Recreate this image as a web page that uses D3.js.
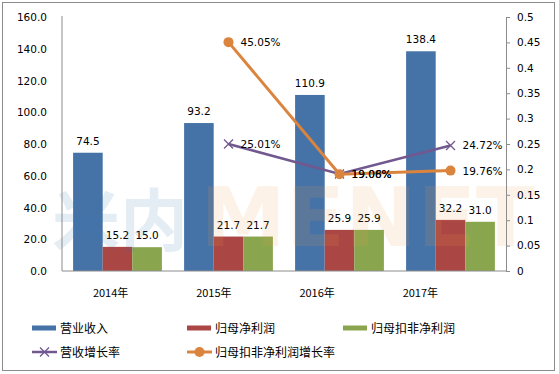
<!DOCTYPE html>
<html>
<head>
<meta charset="utf-8" />
<script src="https://d3js.org/d3.v7.min.js"></script>
<style>
  body { margin: 0; background: #fff; }
  text { font-family: "DejaVu Sans", "Noto Sans CJK SC", sans-serif; fill: #000; }
  .cjk { font-family: "Noto Sans CJK SC", sans-serif; }
</style>
</head>
<body>
<svg id="chart" width="559" height="374"></svg>
<script>
  // data
  var years = ["2014年", "2015年", "2016年", "2017年"];
  var revenue = [74.5, 93.2, 110.9, 138.4];        // 营业收入
  var netProfit = [15.2, 21.7, 25.9, 32.2];        // 归母净利润
  var deductedProfit = [15.0, 21.7, 25.9, 31.0];   // 归母扣非净利润
  var revenueGrowth = [null, 0.2501, 0.1908, 0.2472];     // 营收增长率
  var deductedGrowth = [null, 0.4505, 0.1906, 0.1976];    // 归母扣非净利润增长率
  var leftTicks = [0, 20, 40, 60, 80, 100, 120, 140, 160];
  var rightTicks = [0, 0.05, 0.1, 0.15, 0.2, 0.25, 0.3, 0.35, 0.4, 0.45, 0.5];

  var barSeries = [
    { name: "营业收入", values: revenue, color: "#4572A7" },
    { name: "归母净利润", values: netProfit, color: "#AA4643" },
    { name: "归母扣非净利润", values: deductedProfit, color: "#89A54E" }
  ];
  var lineSeries = [
    { name: "营收增长率", values: revenueGrowth, color: "#71588F", marker: "x", width: 2.5 },
    { name: "归母扣非净利润增长率", values: deductedGrowth, color: "#DB843D", marker: "circle", width: 3 }
  ];

  var svg = d3.select("#chart");
  var plotL = 62, plotR = 506, plotT = 17, plotB = 271;

  // outer frame
  svg.append("rect")
    .attr("x", 2.5).attr("y", 2.5)
    .attr("width", 552).attr("height", 368)
    .attr("fill", "#fff").attr("stroke", "#8c8c8c");

  var x0 = d3.scaleBand().domain(years).range([plotL, plotR])
    .paddingInner(0.2).paddingOuter(0.1);
  var x1 = d3.scaleBand().domain(d3.range(barSeries.length))
    .range([0, x0.bandwidth()]);
  var yL = d3.scaleLinear().domain([0, 160]).range([plotB, plotT]);
  var yR = d3.scaleLinear().domain([0, 0.5]).range([plotB, plotT]);
  // category labels sit a bit left of the bar groups in the original
  var xLab = d3.scaleBand().domain(years).range([59, 472]);

  var cx = function (i) { return x0(years[i]) + x0.bandwidth() / 2; };

  // bars
  barSeries.forEach(function (s, k) {
    var g = svg.append("g");
    g.selectAll("rect").data(s.values).enter().append("rect")
      .attr("x", function (d, i) { return x0(years[i]) + x1(k); })
      .attr("y", function (d) { return yL(d); })
      .attr("width", x1.bandwidth())
      .attr("height", function (d) { return plotB - yL(d); })
      .attr("fill", s.color);
    g.selectAll("text").data(s.values).enter().append("text")
      .attr("x", function (d, i) { return x0(years[i]) + x1(k) + x1.bandwidth() / 2; })
      .attr("y", function (d) { return yL(d) - 8; })
      .attr("text-anchor", "middle")
      .style("font-size", "10.5px")
      .text(function (d) { return d.toFixed(1); });
  });

  // watermark
  var wm = svg.append("g").attr("opacity", 0.13);
  wm.append("text").attr("class", "cjk")
    .attr("x", 52).attr("y", 246)
    .style("font-size", "68px").style("font-weight", "bold")
    .style("fill", "#3c7ab0")
    .text("米内");
  wm.append("text")
    .attr("x", 200).attr("y", 246)
    .attr("textLength", 335).attr("lengthAdjust", "spacingAndGlyphs")
    .style("font-size", "82px").style("font-weight", "bold")
    .style("fill", "#f0a050")
    .text("MENET");

  // axes
  svg.append("line").attr("x1", plotL).attr("x2", plotL).attr("y1", plotT - 1).attr("y2", plotB)
    .attr("stroke", "#8c8c8c");
  svg.append("line").attr("x1", plotL).attr("x2", plotR).attr("y1", plotB).attr("y2", plotB)
    .attr("stroke", "#8c8c8c");

  svg.append("g").selectAll("text").data(leftTicks).enter().append("text")
    .attr("x", 47).attr("y", function (d) { return yL(d) + 4; })
    .attr("text-anchor", "end")
    .style("font-size", "10.5px")
    .text(function (d) { return d.toFixed(1); });

  var ra = svg.append("g").attr("transform", "translate(" + plotR + ",0)")
    .call(d3.axisRight(yR).tickValues(rightTicks).tickSize(4).tickPadding(7)
      .tickFormat(function (d) { return String(+d.toFixed(2)); }));
  ra.selectAll("path, line").attr("stroke", "#8c8c8c");
  ra.selectAll("text").style("font-size", "10.5px").style("font-family", "DejaVu Sans").attr("fill", "#000");

  svg.append("g").selectAll("text").data(years).enter().append("text")
    .attr("class", "cjk")
    .attr("x", function (d) { return xLab(d) + xLab.bandwidth() / 2; })
    .attr("y", 297)
    .attr("text-anchor", "middle")
    .style("font-size", "11px")
    .text(function (d) { return d; });

  // lines
  function drawMarker(g, type, color, px, py) {
    if (type === "circle") {
      g.append("circle").attr("cx", px).attr("cy", py).attr("r", 5).attr("fill", color);
    } else {
      g.append("path")
        .attr("d", "M" + (px - 4.5) + "," + (py - 4.5) + "L" + (px + 4.5) + "," + (py + 4.5) +
          "M" + (px - 4.5) + "," + (py + 4.5) + "L" + (px + 4.5) + "," + (py - 4.5))
        .attr("stroke", color).attr("stroke-width", 1.3).attr("fill", "none");
    }
  }

  lineSeries.forEach(function (s) {
    var g = svg.append("g");
    var line = d3.line()
      .defined(function (d) { return d != null; })
      .x(function (d, i) { return cx(i); })
      .y(function (d) { return yR(d); });
    g.append("path").datum(s.values)
      .attr("d", line)
      .attr("fill", "none")
      .attr("stroke", s.color)
      .attr("stroke-width", s.width);
    s.values.forEach(function (d, i) {
      if (d == null) return;
      drawMarker(g, s.marker, s.color, cx(i), yR(d));
    });
  });
  lineSeries.forEach(function (s) {
    s.values.forEach(function (d, i) {
      if (d == null) return;
      svg.append("text")
        .attr("x", cx(i) + 12).attr("y", yR(d) + 4)
        .style("font-size", "10.5px")
        .text((d * 100).toFixed(2) + "%");
    });
  });

  // legend
  var legendItems = barSeries.map(function (s) { return { name: s.name, color: s.color, type: "bar" }; })
    .concat(lineSeries.map(function (s) { return { name: s.name, color: s.color, type: "line", marker: s.marker }; }));
  var colX = [32, 187, 343];
  var rowY = [328, 352];
  legendItems.forEach(function (it, i) {
    var lx = colX[i % 3], ly = rowY[Math.floor(i / 3)];
    var g = svg.append("g");
    if (it.type === "bar") {
      g.append("rect").attr("x", lx).attr("y", ly - 2.5).attr("width", 24).attr("height", 5).attr("fill", it.color);
    } else {
      g.append("line").attr("x1", lx).attr("x2", lx + 25).attr("y1", ly).attr("y2", ly)
        .attr("stroke", it.color).attr("stroke-width", it.marker === "circle" ? 3 : 2.5);
      drawMarker(g, it.marker, it.color, lx + 12.5, ly);
    }
    g.append("text").attr("class", "cjk")
      .attr("x", lx + 28).attr("y", ly + 4.5)
      .style("font-size", "12px")
      .text(it.name);
  });
</script>
</body>
</html>
